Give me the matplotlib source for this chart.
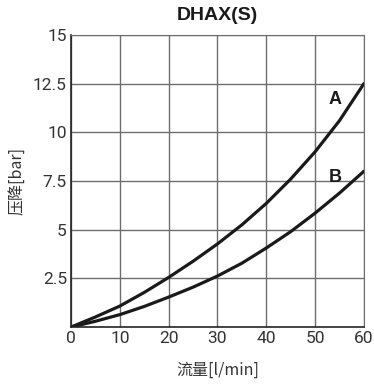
import matplotlib
matplotlib.use("Agg")
import matplotlib.pyplot as plt
from matplotlib import font_manager

flow = [0, 5, 10, 15, 20, 25, 30, 35, 40, 45, 50, 55, 60]
dp_a = [0, 0.52, 1.08, 1.78, 2.55, 3.38, 4.27, 5.25, 6.35, 7.6, 9.0, 10.6, 12.5]
dp_b = [0, 0.3, 0.64, 1.06, 1.54, 2.05, 2.62, 3.28, 4.06, 4.9, 5.85, 6.88, 8.0]
xticks = [0, 10, 20, 30, 40, 50, 60]
yticks = [2.5, 5, 7.5, 10, 12.5, 15]
ytick_labels = ["2.5", "5", "7.5", "10", "12.5", "15"]

names = {f.name for f in font_manager.fontManager.ttflist}
num_font = "Liberation Sans Narrow" if "Liberation Sans Narrow" in names else "Roboto"
plt.rcParams['font.family'] = ['Noto Sans CJK SC', 'DejaVu Sans']

fig = plt.figure(figsize=(3.74, 3.88), dpi=100)
ax = fig.add_axes([0.19, 0.157, 0.783, 0.753])

ax.plot(flow, dp_a, color="#1a1a1a", lw=2.3, solid_capstyle="round")
ax.plot(flow, dp_b, color="#1a1a1a", lw=2.3, solid_capstyle="round")

ax.set_xlim(0, 60)
ax.set_ylim(0, 15)
ax.set_xticks(xticks)
ax.set_yticks(yticks)
ax.set_xticklabels([str(t) for t in xticks], family=num_font, fontweight="normal",
                   fontsize=12.5, color="#333333")
ax.set_yticklabels(ytick_labels, family=num_font, fontweight="normal",
                   fontsize=12.5, color="#333333")
ax.tick_params(length=0, pad=3)
ax.grid(True, color="#6e6e6e", lw=1.0)
for side in ["top", "right"]:
    ax.spines[side].set_color("#6e6e6e")
for side in ["left", "bottom"]:
    ax.spines[side].set_color("#222222")
    ax.spines[side].set_linewidth(1.2)

ax.text(54.1, 11.7, "A", fontsize=13, fontweight="bold", family="Liberation Sans",
        ha="center", va="center", color="#1a1a1a")
ax.text(54.1, 7.7, "B", fontsize=13, fontweight="bold", family="Liberation Sans",
        ha="center", va="center", color="#1a1a1a")

fig.text(0.5 * (0.19 + 0.973), 0.961, "DHAX(S)", fontsize=14, fontweight="bold",
         family="Liberation Sans", ha="center", va="center", color="#1a1a1a")
fig.text(0.5 * (0.19 + 0.973), 0.046, "流量[l/min]", fontsize=11.5, ha="center",
         va="center", color="#333333")
fig.text(0.045, 0.5 * (0.157 + 0.91), "压降[bar]", fontsize=11.5, rotation=90,
         ha="center", va="center", color="#333333")

fig.savefig("out.png", dpi=100)
